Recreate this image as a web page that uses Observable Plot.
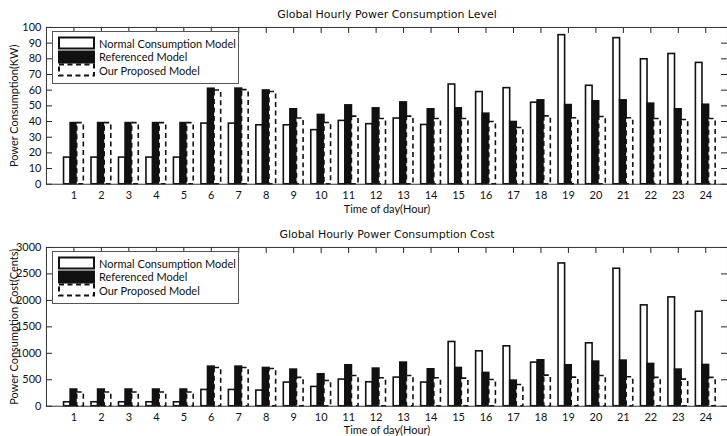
<!DOCTYPE html>
<html><head><meta charset="utf-8">
<script src="https://cdn.jsdelivr.net/npm/d3@7"></script>
<script src="https://cdn.jsdelivr.net/npm/@observablehq/plot@0.6"></script>
<style>
html,body{margin:0;padding:0;background:#fff;overflow:hidden;width:727px;height:436px}
.panel{position:relative;width:727px;height:218px;overflow:hidden}
.panel svg{display:block}
.legend{position:absolute;left:52px;width:187px;height:53px;border:1px solid #555;background:#fff;box-sizing:border-box;font-family:Lato,sans-serif;font-size:11px;color:#111}
.row{position:absolute;left:5px;height:14px;display:flex;align-items:center;white-space:nowrap}
.row svg{margin-right:4px}
</style></head>
<body><div id="root"></div>
<script>
const hours = [1,2,3,4,5,6,7,8,9,10,11,12,13,14,15,16,17,18,19,20,21,22,23,24];
const modelNames = ["Normal Consumption Model","Referenced Model","Our Proposed Model"];

const kwNormal     = [17,17,17,17,17,38.7,38.7,37.6,37.6,34.5,40.4,38.3,41.9,37.8,63.6,58.8,61.3,52.0,95.1,62.8,93.2,79.7,83.1,77.4];
const kwReferenced = [39,39,39,39,39,60.9,61,59.8,47.8,44.2,50.3,48.4,52.2,47.8,48.4,45.0,39.7,53.5,50.5,52.9,53.5,51.4,47.8,50.7];
const kwProposed   = [39,39,39,39,39,59.8,60,58.8,41.9,39.1,43.1,41.6,43.1,41.6,41.6,39.7,35.9,43.3,42.1,42.9,42.1,41.6,41.0,41.6];

const costNormal     = [75,75,75,75,75,308,308,296,447,365,503,453,541,447,1214,1038,1132,824,2698,1189,2598,1906,2057,1786];
const costReferenced = [315,315,315,315,315,748,748,723,692,604,774,711,824,698,723,629,484,868,774,843,862,799,692,780];
const costProposed   = [260,260,260,260,260,723,723,704,535,478,572,528,572,528,522,495,400,579,541,572,547,535,503,535];

const kwTicks = [0,10,20,30,40,50,60,70,80,90,100];
const costTicks = [0,500,1000,1500,2000,2500,3000];

const titles = ["Global Hourly Power Consumption Level","Global Hourly Power Consumption Cost"];
const yLabels = ["Power Consumption(KW)","Power Consumption Cost(Cents)"];
const xLabel = "Time of day(Hour)";

const barWidth = 0.24;

function rowsOf(series){
  return series.flatMap((vals,m)=>vals.map((v,i)=>({hour:hours[i],model:m,value:v})));
}

function swatch(m){
  const dash = m===2 ? 'stroke-dasharray="5,3.5"' : '';
  const fill = m===1 ? '#111' : '#fff';
  return `<svg width="37" height="14"><rect x="1" y="1.5" width="35" height="11" fill="${fill}" stroke="#111" stroke-width="2" ${dash}/></svg>`;
}

function panel({series, yDomain, yTicks, title, yLabel, mt, mb, titleDy, xlabelDy}){
  const W = 728, H = 218, ML = 46, MR = 0;
  const fw = W-ML-MR, fh = H-mt-mb;
  const rows = rowsOf(series);
  const x1 = d => d.hour + (d.model-1.5)*barWidth;
  const x2 = d => d.hour + (d.model-0.5)*barWidth;
  const div = document.createElement("div");
  div.className = "panel";
  const svg = Plot.plot({
    width: W, height: H, marginLeft: ML, marginRight: MR, marginTop: mt, marginBottom: mb,
    x: {domain:[0,24.79], axis:null},
    y: {domain:yDomain, axis:null},
    style: {fontFamily:"Lato, sans-serif", fontSize:"11px", background:"#fff", color:"#111"},
    marks: [
      Plot.tickX(hours, {x:d=>d, insetBottom: fh-6, stroke:"#222"}),
      Plot.tickX(hours, {x:d=>d, insetTop: fh-6, stroke:"#222"}),
      Plot.tickY(yTicks, {y:d=>d, insetRight: fw-6, stroke:"#222"}),
      Plot.tickY(yTicks, {y:d=>d, insetLeft: fw-6, stroke:"#222"}),
      Plot.rect(rows.filter(d=>d.model===0), {x1, x2, y1:0, y2:"value", fill:"#fff", stroke:"#111", strokeWidth:1.6}),
      Plot.rect(rows.filter(d=>d.model===1), {x1, x2, y1:0, y2:"value", fill:"#111", stroke:"#111", strokeWidth:1.6}),
      Plot.rect(rows.filter(d=>d.model===2), {x1, x2, y1:0, y2:"value", fill:"#fff", stroke:"#111", strokeWidth:1.6, strokeDasharray:"5,3.5"}),
      Plot.frame({stroke:"#333"}),
      Plot.axisX(hours, {tickSize:0, tickPadding:7, tickFormat:d=>String(d), label:null, fontSize:11}),
      Plot.axisY(yTicks, {tickSize:0, tickPadding:5, tickFormat:d=>String(d), label:null, fontSize:11}),
      Plot.text([title], {frameAnchor:"top", lineAnchor:"middle", dy:titleDy, fontFamily:"DejaVu Sans", fontSize:11, fill:"#111"}),
      Plot.text([xLabel], {frameAnchor:"bottom", lineAnchor:"middle", dy:xlabelDy, fontSize:11, fill:"#111"}),
      Plot.text([yLabel], {frameAnchor:"left", textAnchor:"middle", lineAnchor:"middle", rotate:-90, dx:-32, fontSize:11, fill:"#111"})
    ]
  });
  div.appendChild(svg);
  const lg = document.createElement("div");
  lg.className = "legend";
  lg.style.top = (mt+4)+"px";
  lg.innerHTML = modelNames.map((n,m)=>`<div class="row" style="top:${4+m*13.7}px">${swatch(m)}<span>${n}</span></div>`).join("");
  div.appendChild(lg);
  return div;
}

const root = document.getElementById("root");
root.appendChild(panel({series:[kwNormal,kwReferenced,kwProposed], yDomain:[0,100], yTicks:kwTicks, title:titles[0], yLabel:yLabels[0], mt:27, mb:34, titleDy:-13, xlabelDy:25}));
root.appendChild(panel({series:[costNormal,costReferenced,costProposed], yDomain:[0,3000], yTicks:costTicks, title:titles[1], yLabel:yLabels[1], mt:29, mb:30, titleDy:-13, xlabelDy:24}));
</script>
</body></html>
